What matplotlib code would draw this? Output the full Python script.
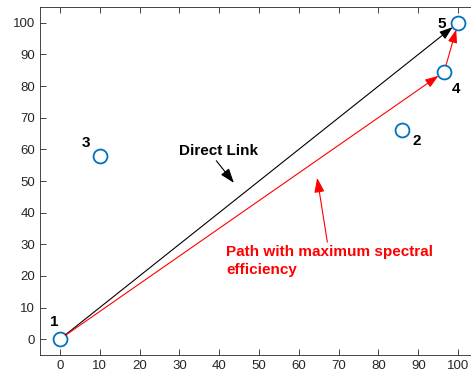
import matplotlib.pyplot as plt

plt.rcParams['font.family'] = ['Liberation Sans', 'DejaVu Sans']

# node positions
node_ids = ['1', '2', '3', '4', '5']
node_x = [0, 86, 10, 96.5, 100]
node_y = [0, 66, 58, 84.5, 100]

# label offsets for the node numbers (data units)
label_x = [-1.5, 89.5, 6.5, 99.5, 96]
label_y = [5.5, 62.5, 62, 79, 99.5]

# route chosen by max spectral efficiency: 1 -> 4 -> 5
path = [0, 3, 4]

head = '-|>,head_length=0.8,head_width=0.28'

fig = plt.figure(figsize=(4.71, 3.76), dpi=100)
ax = fig.add_axes([40 / 471, 21 / 376, 438 / 471, 348 / 376])

ax.plot(node_x, node_y, 'o', mfc='none', mec='#0072BD', ms=10, mew=1.3, zorder=3)

for i, t in enumerate(node_ids):
    ax.text(label_x[i], label_y[i], t, fontsize=11, fontweight='bold',
            ha='center', va='center')

# direct link 1 -> 5
ax.annotate('', xy=(node_x[4], node_y[4]), xytext=(node_x[0], node_y[0]),
            arrowprops=dict(arrowstyle=head, color='black', lw=0.8,
                            shrinkA=5, shrinkB=5))

# multi-hop path
for a, b in zip(path[:-1], path[1:]):
    ax.annotate('', xy=(node_x[b], node_y[b]), xytext=(node_x[a], node_y[a]),
                arrowprops=dict(arrowstyle=head, color='red', lw=0.8,
                                shrinkA=5, shrinkB=5))

ax.annotate('Direct Link', xy=(43.7, 49.4), xytext=(30, 59.5),
            fontsize=11, fontweight='bold', va='center', ha='left',
            arrowprops=dict(arrowstyle=head, color='black', lw=0.8,
                            shrinkA=0, shrinkB=0, relpos=(0.46, -0.15)))

ax.annotate('Path with maximum spectral\nefficiency', xy=(64.6, 51),
            xytext=(41.7, 29.8), fontsize=11, fontweight='bold', color='red',
            va='top', ha='left', linespacing=1.35,
            arrowprops=dict(arrowstyle=head, color='red', lw=0.8,
                            shrinkA=0, shrinkB=0, relpos=(0.49, 1.08)))

ax.set_xlim(-5, 105)
ax.set_ylim(-5, 105)
ax.set_xticks(range(0, 101, 10))
ax.set_yticks(range(0, 101, 10))
ax.tick_params(direction='in', top=True, right=True, length=4, width=0.6,
               labelsize=9.5, colors='#262626', labelcolor='#262626')
for s in ax.spines.values():
    s.set_linewidth(0.6)
    s.set_color('#262626')

fig.savefig('out.png', dpi=100)
